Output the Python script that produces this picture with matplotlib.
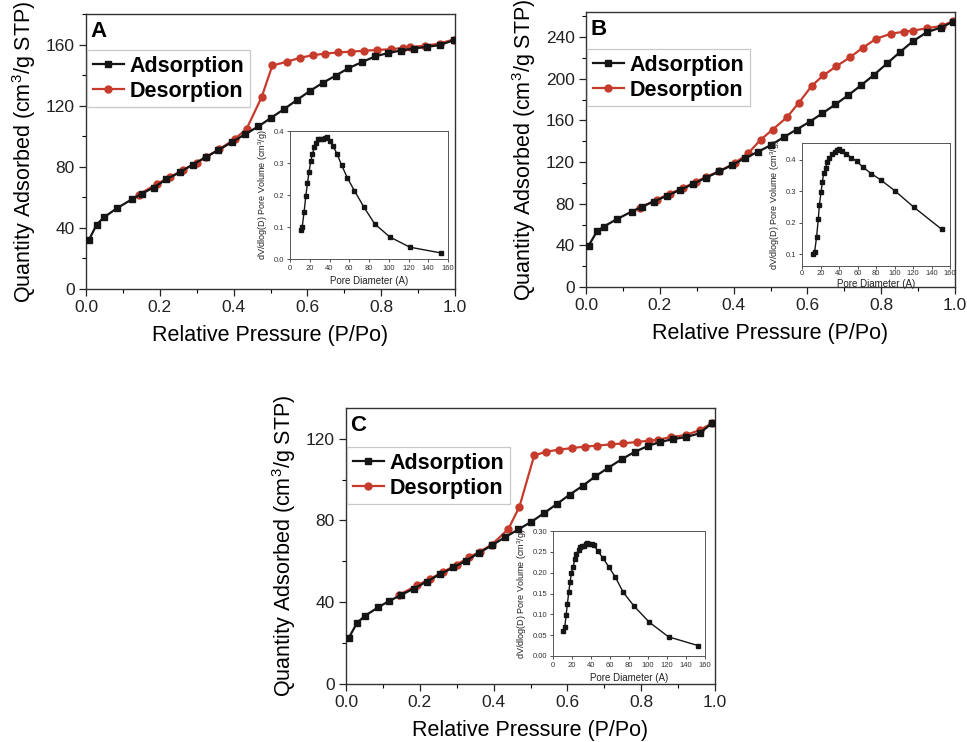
import matplotlib
matplotlib.use("Agg")
import matplotlib.pyplot as plt
from matplotlib.ticker import MultipleLocator, FormatStrFormatter

plt.rcParams['font.family'] = ['Liberation Sans', 'DejaVu Sans']
plt.rcParams['mathtext.default'] = 'regular'

# ---------------- Panel A ----------------
a_ads_x = [0.008, 0.029, 0.048, 0.084, 0.125, 0.152, 0.183, 0.218, 0.254, 0.289, 0.324, 0.359,
           0.396, 0.432, 0.467, 0.502, 0.537, 0.571, 0.606, 0.642, 0.677, 0.711, 0.748, 0.783,
           0.819, 0.854, 0.889, 0.923, 0.958, 0.996]
a_ads_y = [32.2, 42.2, 46.8, 52.9, 58.8, 62.5, 66.4, 71.8, 76.4, 81.4, 86.2, 91.0,
           96.2, 101.4, 106.4, 112.1, 117.8, 123.6, 129.5, 135.0, 139.7, 144.5, 148.5, 152.2,
           154.5, 156.1, 157.4, 158.5, 159.6, 162.8]
a_des_x = [0.996, 0.958, 0.919, 0.879, 0.858, 0.826, 0.788, 0.754, 0.718, 0.683, 0.649, 0.614,
           0.579, 0.544, 0.505, 0.476, 0.435, 0.403, 0.361, 0.325, 0.300, 0.264, 0.227, 0.192, 0.143]
a_des_y = [163.3, 160.6, 159.3, 158.3, 157.8, 156.9, 156.5, 155.9, 155.4, 154.8, 154.1, 153.0,
           151.3, 148.7, 146.3, 125.6, 104.7, 98.2, 91.4, 86.4, 82.5, 78.1, 73.1, 68.8, 61.8]
a_pore_d = [10.7, 12.3, 14.3, 16.0, 17.7, 19.3, 21.0, 22.7, 24.7, 26.7, 28.7, 30.7, 33.0,
            35.0, 37.3, 40.0, 43.7, 47.7, 52.3, 58.0, 65.3, 74.7, 85.7, 101.0, 121.3, 152.7]
a_pore_v = [0.092, 0.099, 0.148, 0.196, 0.237, 0.273, 0.305, 0.328, 0.349, 0.363, 0.374, 0.374,
            0.374, 0.377, 0.381, 0.370, 0.352, 0.328, 0.293, 0.254, 0.213, 0.163, 0.110, 0.069,
            0.037, 0.019]

# ---------------- Panel B ----------------
b_ads_x = [0.007, 0.030, 0.048, 0.083, 0.124, 0.151, 0.183, 0.219, 0.255, 0.291, 0.326, 0.361,
           0.397, 0.431, 0.466, 0.501, 0.536, 0.571, 0.606, 0.640, 0.676, 0.711, 0.745, 0.780,
           0.816, 0.851, 0.886, 0.923, 0.961, 0.995]
b_ads_y = [39.7, 53.5, 58.0, 65.0, 72.4, 76.9, 82.0, 87.5, 93.2, 99.0, 105.1, 110.9,
           117.3, 123.7, 129.8, 136.2, 143.9, 151.2, 158.6, 166.6, 175.3, 184.2, 193.5, 203.5,
           214.7, 225.6, 235.9, 244.5, 249.0, 254.7]
b_des_x = [0.995, 0.964, 0.923, 0.885, 0.862, 0.827, 0.787, 0.750, 0.715, 0.678, 0.643, 0.612,
           0.576, 0.545, 0.506, 0.473, 0.439, 0.404, 0.360, 0.324, 0.297, 0.264, 0.228, 0.192, 0.147]
b_des_y = [255.4, 250.6, 248.3, 246.1, 245.1, 243.2, 238.4, 229.7, 220.4, 211.8, 203.1, 193.2,
           176.5, 163.1, 151.2, 141.3, 128.2, 119.2, 110.9, 105.4, 100.9, 95.2, 89.7, 83.9, 76.3]
b_pore_d = [11.4, 13.6, 15.8, 17.6, 18.7, 20.6, 22.0, 23.5, 25.7, 27.2, 29.7, 32.3, 35.2,
            37.8, 40.4, 42.9, 47.7, 53.2, 59.1, 66.1, 74.9, 85.5, 100.2, 120.7, 151.2]
b_pore_v = [0.102, 0.107, 0.156, 0.211, 0.255, 0.297, 0.328, 0.359, 0.373, 0.394, 0.404, 0.418,
            0.426, 0.431, 0.435, 0.429, 0.418, 0.407, 0.395, 0.376, 0.356, 0.335, 0.302, 0.250,
            0.179]

# ---------------- Panel C ----------------
c_ads_x = [0.007, 0.030, 0.051, 0.088, 0.116, 0.150, 0.184, 0.219, 0.255, 0.291, 0.326, 0.361,
           0.395, 0.431, 0.467, 0.502, 0.537, 0.571, 0.606, 0.642, 0.676, 0.711, 0.747, 0.782,
           0.818, 0.852, 0.887, 0.922, 0.958, 0.993]
c_ads_y = [22.4, 29.9, 33.3, 37.6, 40.5, 43.6, 46.7, 50.1, 53.7, 57.0, 60.4, 64.2,
           67.8, 71.8, 75.6, 79.3, 83.6, 88.0, 92.6, 97.0, 101.6, 105.8, 109.9, 113.5,
           116.4, 118.4, 119.8, 120.8, 122.6, 127.7]
c_des_x = [0.993, 0.959, 0.921, 0.880, 0.845, 0.822, 0.788, 0.752, 0.717, 0.681, 0.647, 0.612,
           0.576, 0.542, 0.510, 0.470, 0.440, 0.395, 0.364, 0.333, 0.300, 0.264, 0.227, 0.192, 0.144]
c_des_y = [127.7, 124.2, 121.8, 120.7, 119.5, 119.0, 118.4, 117.7, 117.2, 116.6, 116.1, 115.4,
           114.6, 113.6, 111.8, 86.7, 75.8, 68.2, 64.8, 62.0, 58.4, 54.9, 51.4, 48.2, 43.6]
c_pore_d = [10.6, 12.4, 13.8, 15.2, 16.6, 18.0, 19.4, 21.2, 23.0, 24.7, 26.9, 28.6, 30.4, 32.5,
            34.3, 36.0, 38.2, 41.0, 43.1, 47.0, 52.3, 58.7, 65.7, 73.9, 85.2, 101.4, 121.6, 152.7]
c_pore_v = [0.060, 0.069, 0.098, 0.126, 0.154, 0.177, 0.200, 0.214, 0.233, 0.244, 0.255, 0.262,
            0.263, 0.263, 0.268, 0.272, 0.269, 0.268, 0.266, 0.252, 0.236, 0.214, 0.189, 0.153,
            0.120, 0.081, 0.046, 0.025]

RED = '#c63b2c'
BLACK = '#151515'

W, H = 967, 742


def rect(left, top, right, bottom):
    return [left / W, 1 - bottom / H, (right - left) / W, (bottom - top) / H]


fig = plt.figure(figsize=(9.67, 7.42), dpi=100)
fig.patch.set_facecolor('white')


def main_panel(r, ads_x, ads_y, des_x, des_y, ylim, ymajor, letter, legend_top):
    ax = fig.add_axes(r)
    ax.plot(ads_x, ads_y, '-s', color=BLACK, lw=1.6, ms=5, mec=BLACK, mfc=BLACK,
            label='Adsorption', zorder=3)
    ax.plot(des_x, des_y, '-o', color=RED, lw=1.6, ms=5, mec=RED, mfc=RED,
            label='Desorption', zorder=2)
    ax.set_xlim(0, 1.0)
    ax.set_ylim(*ylim)
    ax.xaxis.set_major_locator(MultipleLocator(0.2))
    ax.xaxis.set_minor_locator(MultipleLocator(0.1))
    ax.yaxis.set_major_locator(MultipleLocator(ymajor))
    ax.yaxis.set_minor_locator(MultipleLocator(ymajor / 2))
    ax.xaxis.set_major_formatter(FormatStrFormatter('%.1f'))
    ax.tick_params(which='major', direction='out', length=5, width=0.9, labelsize=12.5,
                   colors='#222222', pad=3)
    ax.tick_params(which='minor', direction='out', length=3, width=0.8)
    for s in ax.spines.values():
        s.set_linewidth(1.0)
        s.set_color('#333333')
    ax.set_xlabel('Relative Pressure (P/Po)', fontsize=15.5, labelpad=7)
    ax.set_ylabel('Quantity Adsorbed (cm$^3$/g STP)', fontsize=15.5, labelpad=6)
    leg = ax.legend(loc='upper left', bbox_to_anchor=(0.004, legend_top),
                    prop={'weight': 'bold', 'size': 15.5}, frameon=True, fancybox=False,
                    handlelength=1.45, handletextpad=0.25, borderpad=0.25,
                    labelspacing=0.2, borderaxespad=0.0, numpoints=1)
    leg.get_frame().set_edgecolor('#bbbbbb')
    leg.get_frame().set_linewidth(0.9)
    ax.text(0.012, 0.975, letter, transform=ax.transAxes, fontsize=16, fontweight='bold',
            va='top', ha='left')
    return ax


def inset_panel(r, d, v, ylim, ymajor, fmt, tickpad=2, xlabelpad=3):
    ax = fig.add_axes(r)
    ax.plot(d, v, '-s', color=BLACK, lw=1.0, ms=2.2, mec=BLACK, mfc=BLACK)
    ax.set_xlim(0, 160)
    ax.set_ylim(*ylim)
    ax.xaxis.set_major_locator(MultipleLocator(20))
    ax.yaxis.set_major_locator(MultipleLocator(ymajor))
    ax.yaxis.set_major_formatter(FormatStrFormatter(fmt))
    ax.tick_params(which='major', direction='out', length=2, width=0.6, labelsize=5.5,
                   colors='#333333', pad=2)
    ax.tick_params(axis='x', pad=tickpad)
    for s in ax.spines.values():
        s.set_linewidth(0.7)
        s.set_color('#555555')
    ax.set_xlabel('Pore Diameter (A)', fontsize=7, labelpad=xlabelpad, color='#222222')
    ax.set_ylabel('dV/dlog(D) Pore Volume (cm$^3$/g)', fontsize=6.5, labelpad=3,
                  color='#222222')
    return ax


main_panel(rect(86, 14, 455, 289), a_ads_x, a_ads_y, a_des_x, a_des_y, (0, 180), 40,
           'A', 0.868)
inset_panel(rect(290, 131, 448, 259), a_pore_d, a_pore_v, (0, 0.4), 0.1, '%.1f')

main_panel(rect(586, 12, 955, 287), b_ads_x, b_ads_y, b_des_x, b_des_y, (0, 264), 40,
           'B', 0.865)
inset_panel(rect(802, 143, 950, 266), b_pore_d, b_pore_v, (0.063, 0.453), 0.1, '%.1f',
            tickpad=1, xlabelpad=1)

main_panel(rect(346, 408, 715, 684), c_ads_x, c_ads_y, c_des_x, c_des_y, (0, 135), 40,
           'C', 0.858)
inset_panel(rect(553, 531, 705, 656), c_pore_d, c_pore_v, (0, 0.30), 0.05, '%.2f')

fig.savefig('out.png', dpi=100, facecolor='white')
